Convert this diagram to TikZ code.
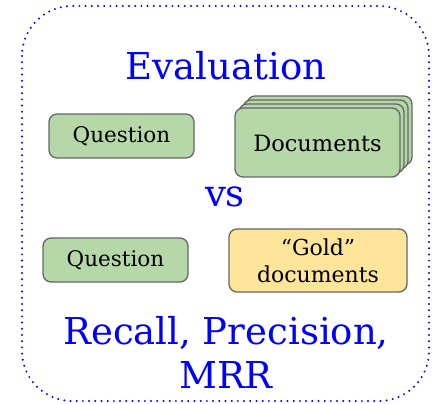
\documentclass[tikz,border=0pt]{standalone}
\usepackage{fontspec}
\setmainfont{DejaVu Serif}
\definecolor{boxgreen}{HTML}{B6D7A8}
\definecolor{boxyellow}{HTML}{FFE599}
\definecolor{boxline}{HTML}{666666}
\definecolor{titleblue}{HTML}{0000FF}
\begin{document}
\begin{tikzpicture}[x=1pt,y=-1pt,
  card/.style={draw=boxline,line width=1.3pt,rounded corners=8pt,fill=boxgreen},
  cardtext/.style={font=\fontsize{21.5}{26}\selectfont,align=center,text=black},
  bigtext/.style={font=\fontsize{37}{44}\selectfont,text=titleblue,align=center}]
\useasboundingbox (0,0) rectangle (432,404);
% frame
\draw[titleblue,line width=2.2pt,dash pattern=on 0pt off 6.2pt,line cap=round,rounded corners=50pt]
  (22,6) rectangle (429,401);
\node[bigtext] (title) at (226,66) {Evaluation};
% question 1
\draw[card] (49,114) rectangle (194,158);
\node[cardtext] (q1) at (121.5,136) {Question};
% documents stack
\draw[card] (247,96) rectangle (412,165);
\draw[card] (243,100) rectangle (408,169);
\draw[card] (239,104) rectangle (404,173);
\draw[card] (235,108) rectangle (400,177);
\node[cardtext,font=\fontsize{22.5}{26}\selectfont] (docs) at (317.5,143) {Documents};
\node[bigtext] (vs) at (225,197) {vs};
% question 2
\draw[card] (43,238) rectangle (188,282);
\node[cardtext] (q2) at (115.5,260) {Question};
% gold
\draw[card,fill=boxyellow] (229,229) rectangle (407,292);
\node[cardtext,font=\fontsize{22}{27}\selectfont] (gold) at (318,260.5) {“Gold”\\documents};
\node[bigtext] (metrics) at (226,352) {Recall, Precision,\\MRR};
\end{tikzpicture}
\end{document}
